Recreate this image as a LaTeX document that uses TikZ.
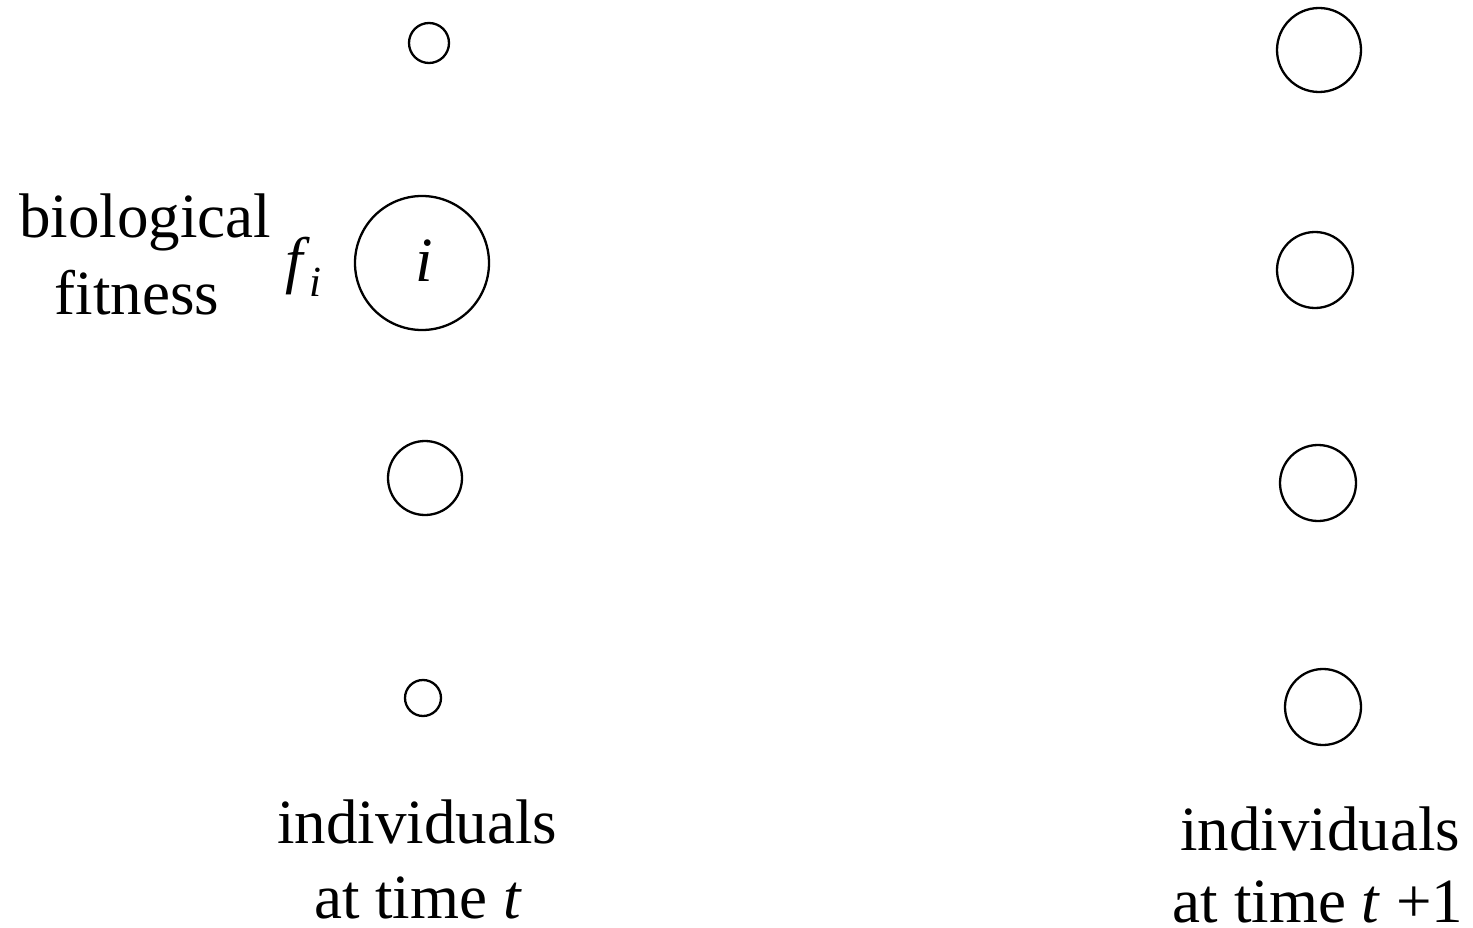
\documentclass[tikz,border=0pt]{standalone}
\usepackage{fontspec}
\setmainfont{Liberation Serif}
\begin{document}
\begin{tikzpicture}[x=1pt,y=-1pt,
  ind/.style={circle,draw,line width=2.3pt,inner sep=0pt},
  lbl/.style={anchor=base,inner sep=0pt,font=\fontsize{63}{76}\selectfont}]
\useasboundingbox (0,0) rectangle (1473,928);
% left column
\node[ind,minimum size=40pt] (l1) at (429,43) {};
\node[ind,minimum size=134pt] (li) at (422,263) {};
\node[ind,minimum size=74pt] (l3) at (425,478) {};
\node[ind,minimum size=36pt] (l4) at (423,698) {};
% right column
\node[ind,minimum size=84pt] (r1) at (1319,50) {};
\node[ind,minimum size=76pt] (r2) at (1315,270) {};
\node[ind,minimum size=76pt] (r3) at (1318,483) {};
\node[ind,minimum size=76pt] (r4) at (1323,707) {};
% texts
\node[lbl] (iname) at (424,281) {\itshape i};
\node[lbl,anchor=base west] (fi) at (285,281) {\itshape f\kern7pt\raisebox{-16pt}{\fontsize{43}{43}\selectfont\itshape i}};
\node[lbl] (bio) at (145,238) {biological};
\node[lbl] (fit) at (137,314) {fitness};
\node[lbl] (indl) at (417,843) {individuals};
\node[lbl] (timel) at (418,918) {at time \textit{t}};
\node[lbl] (indr) at (1320,850) {individuals};
\node[lbl] (timer) at (1318,922) {at time \textit{t} +1};
\end{tikzpicture}
\end{document}
